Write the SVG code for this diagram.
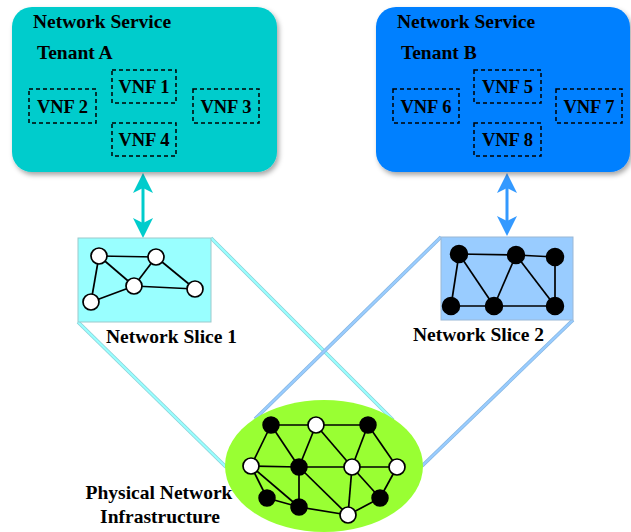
<svg xmlns="http://www.w3.org/2000/svg" width="631" height="532" viewBox="0 0 631 532">
  <defs>
    <filter id="shadow" x="-10%" y="-10%" width="125%" height="130%">
      <feDropShadow dx="2" dy="3" stdDeviation="2.5" flood-color="#000" flood-opacity="0.35"/>
    </filter>
    <marker id="headA" viewBox="0 0 20 20" refX="5" refY="10" markerWidth="20" markerHeight="20" markerUnits="userSpaceOnUse" orient="auto-start-reverse">
      <path d="M0,0 L20,10 L0,20 L5,10 Z" fill="#00CCCC"/>
    </marker>
    <marker id="headB" viewBox="0 0 20 20" refX="5" refY="10" markerWidth="20" markerHeight="20" markerUnits="userSpaceOnUse" orient="auto-start-reverse">
      <path d="M0,0 L20,10 L0,20 L5,10 Z" fill="#3399FF"/>
    </marker>
  </defs>
  <style>
    text { font-family: "Liberation Serif", "Times New Roman", serif; font-weight: bold; fill: #000; }
    .title { font-size: 19.5px; }
    .vnf { font-size: 18.5px; text-anchor: middle; }
    .label { font-size: 19.5px; }
    .vbox { fill: none; stroke: #000; stroke-width: 1.5; stroke-dasharray: 4 3; }
    .edge { stroke: #000; stroke-width: 1.7; fill: none; }
    .wn { fill: #fff; stroke: #000; stroke-width: 1.7; }
    .bn { fill: #000; stroke: #000; stroke-width: 1.5; }
  </style>

  <!-- projection lines from slices down to the physical network -->
  <g id="projections">
    <g stroke-linecap="butt">
      <line x1="211" y1="238" x2="393" y2="420" stroke="#8ccfd6" stroke-width="3.6"/>
      <line x1="211" y1="238" x2="393" y2="420" stroke="#99FFFF" stroke-width="2.2"/>
      <line x1="78" y1="322" x2="226" y2="467" stroke="#8ccfd6" stroke-width="3.6"/>
      <line x1="78" y1="322" x2="226" y2="467" stroke="#99FFFF" stroke-width="2.2"/>
      <line x1="441" y1="237" x2="255" y2="419" stroke="#86b6e0" stroke-width="3.6"/>
      <line x1="441" y1="237" x2="255" y2="419" stroke="#99CCFF" stroke-width="2.2"/>
      <line x1="573" y1="320" x2="422" y2="466" stroke="#86b6e0" stroke-width="3.6"/>
      <line x1="573" y1="320" x2="422" y2="466" stroke="#99CCFF" stroke-width="2.2"/>
    </g>
  </g>

  <!-- service to slice connectors -->
  <g id="connectors">
    <line x1="143" y1="188" x2="143" y2="223" stroke="#00CCCC" stroke-width="3" marker-start="url(#headA)" marker-end="url(#headA)"/>
    <line x1="507" y1="188" x2="507" y2="221" stroke="#3399FF" stroke-width="3" marker-start="url(#headB)" marker-end="url(#headB)"/>
  </g>

  <!-- Tenant A network service -->
  <g id="service-a">
    <rect x="12" y="7" width="265" height="165" rx="20" fill="#00CCCC" filter="url(#shadow)"/>
    <text class="title" x="33" y="28">Network Service</text>
    <text class="title" x="37" y="59">Tenant A</text>
    <g id="vnf1"><rect class="vbox" x="112" y="70" width="64" height="33"/><text class="vnf" x="144" y="93">VNF 1</text></g>
    <g id="vnf2"><rect class="vbox" x="29" y="89" width="67" height="34"/><text class="vnf" x="62.5" y="112.5">VNF 2</text></g>
    <g id="vnf3"><rect class="vbox" x="193" y="89" width="66" height="34"/><text class="vnf" x="226" y="112.5">VNF 3</text></g>
    <g id="vnf4"><rect class="vbox" x="112" y="123" width="64" height="33"/><text class="vnf" x="144" y="145.5">VNF 4</text></g>
  </g>

  <!-- Tenant B network service -->
  <g id="service-b">
    <rect x="376" y="7" width="254" height="165" rx="20" fill="#0080FF" filter="url(#shadow)"/>
    <text class="title" x="397" y="28">Network Service</text>
    <text class="title" x="401" y="59">Tenant B</text>
    <g id="vnf5"><rect class="vbox" x="474" y="70" width="67" height="33"/><text class="vnf" x="507.5" y="93">VNF 5</text></g>
    <g id="vnf6"><rect class="vbox" x="393" y="89" width="66" height="34"/><text class="vnf" x="426" y="112.5">VNF 6</text></g>
    <g id="vnf7"><rect class="vbox" x="556" y="89" width="66" height="34"/><text class="vnf" x="589" y="112.5">VNF 7</text></g>
    <g id="vnf8"><rect class="vbox" x="474" y="123" width="67" height="33"/><text class="vnf" x="507.5" y="145.5">VNF 8</text></g>
  </g>

  <!-- Network Slice 1 -->
  <g id="slice-1">
    <rect x="78" y="238" width="133" height="84" fill="#99FFFF" stroke="#9cc9cc" stroke-width="1"/>
    <g class="edge">
      <line x1="99" y1="256" x2="156" y2="257"/>
      <line x1="99" y1="256" x2="134" y2="286"/>
      <line x1="99" y1="256" x2="91" y2="302"/>
      <line x1="156" y1="257" x2="134" y2="286"/>
      <line x1="156" y1="257" x2="195" y2="289"/>
      <line x1="134" y1="286" x2="195" y2="289"/>
      <line x1="134" y1="286" x2="91" y2="302"/>
    </g>
    <circle class="wn" cx="99" cy="256" r="8"/>
    <circle class="wn" cx="156" cy="257" r="8"/>
    <circle class="wn" cx="134" cy="286" r="8"/>
    <circle class="wn" cx="195" cy="289" r="8"/>
    <circle class="wn" cx="91" cy="302" r="8"/>
    <text class="label" x="106" y="342.5">Network Slice 1</text>
  </g>

  <!-- Network Slice 2 -->
  <g id="slice-2">
    <rect x="441" y="237" width="132" height="83" fill="#99CCFF" stroke="#9ab8d6" stroke-width="1"/>
    <g class="edge">
      <line x1="459" y1="254" x2="516" y2="255"/>
      <line x1="516" y1="255" x2="555" y2="257"/>
      <line x1="459" y1="254" x2="451" y2="306"/>
      <line x1="459" y1="254" x2="494" y2="306"/>
      <line x1="451" y1="306" x2="555" y2="306"/>
      <line x1="494" y1="306" x2="516" y2="255"/>
      <line x1="516" y1="255" x2="555" y2="306"/>
      <line x1="555" y1="257" x2="555" y2="306"/>
    </g>
    <circle class="bn" cx="459" cy="254" r="8.5"/>
    <circle class="bn" cx="516" cy="255" r="8.5"/>
    <circle class="bn" cx="555" cy="257" r="8.5"/>
    <circle class="bn" cx="451" cy="306" r="8.5"/>
    <circle class="bn" cx="494" cy="306" r="8.5"/>
    <circle class="bn" cx="555" cy="306" r="8.5"/>
    <text class="label" x="413" y="341">Network Slice 2</text>
  </g>

  <!-- Physical network infrastructure -->
  <g id="physical">
    <ellipse cx="324" cy="466" rx="99" ry="66" fill="#99FF33"/>
    <g class="edge">
      <line x1="271" y1="425" x2="316" y2="425"/>
      <line x1="316" y1="425" x2="368" y2="425"/>
      <line x1="271" y1="425" x2="251" y2="466"/>
      <line x1="271" y1="425" x2="299" y2="467"/>
      <line x1="316" y1="425" x2="299" y2="467"/>
      <line x1="316" y1="425" x2="352" y2="467"/>
      <line x1="368" y1="425" x2="352" y2="467"/>
      <line x1="368" y1="425" x2="397" y2="467"/>
      <line x1="251" y1="466" x2="299" y2="467"/>
      <line x1="299" y1="467" x2="352" y2="467"/>
      <line x1="352" y1="467" x2="397" y2="467"/>
      <line x1="251" y1="466" x2="267" y2="498"/>
      <line x1="251" y1="466" x2="299" y2="507"/>
      <line x1="267" y1="498" x2="299" y2="507"/>
      <line x1="299" y1="467" x2="299" y2="507"/>
      <line x1="299" y1="467" x2="348" y2="515"/>
      <line x1="299" y1="507" x2="348" y2="515"/>
      <line x1="352" y1="467" x2="348" y2="515"/>
      <line x1="352" y1="467" x2="380" y2="498"/>
      <line x1="348" y1="515" x2="380" y2="498"/>
      <line x1="397" y1="467" x2="380" y2="498"/>
    </g>
    <circle class="bn" cx="271" cy="425" r="8"/>
    <circle class="wn" cx="316" cy="425" r="8"/>
    <circle class="bn" cx="368" cy="425" r="8"/>
    <circle class="wn" cx="251" cy="466" r="8"/>
    <circle class="bn" cx="299" cy="467" r="8"/>
    <circle class="wn" cx="352" cy="467" r="8"/>
    <circle class="wn" cx="397" cy="467" r="8"/>
    <circle class="bn" cx="267" cy="498" r="8"/>
    <circle class="bn" cx="299" cy="507" r="8"/>
    <circle class="wn" cx="348" cy="515" r="8"/>
    <circle class="bn" cx="380" cy="498" r="8"/>
    <text class="label" x="159" y="499" text-anchor="middle">Physical Network</text>
    <text class="label" x="160" y="523" text-anchor="middle">Infrastructure</text>
  </g>
</svg>
